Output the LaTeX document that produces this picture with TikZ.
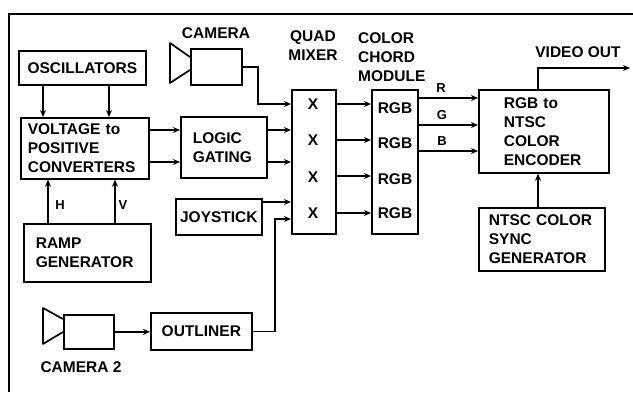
\documentclass[tikz,border=0pt]{standalone}
\usepackage{fontspec}
\setmainfont{Liberation Sans}
\usetikzlibrary{arrows.meta}
\begin{document}
\begin{tikzpicture}[x=1pt,y=-1pt,
  txt/.style={font=\bfseries\fontsize{15.5}{19}\selectfont},
  box/.style={draw, line width=1.7pt, anchor=north west, inner ysep=0pt, txt},
  lbl/.style={txt, inner sep=0pt},
  small/.style={font=\bfseries\fontsize{13}{15}\selectfont, inner sep=0pt},
  wire/.style={line width=1.7pt},
  arr/.style={line width=1.7pt, -{Stealth[length=7pt,width=6pt]}}]
\useasboundingbox (0,0) rectangle (633,392);
% frame
\draw[line width=2.6pt] (633,14) -- (9,14) -- (9,392);

% boxes
\node[box, minimum width=127, minimum height=34] (osc) at (18,50) {OSCILLATORS};
\node[box, minimum width=128, minimum height=61, inner xsep=7, text width=114, align=left] (volt) at (20,117) {VOLTAGE to\\POSITIVE\\CONVERTERS};
\node[box, minimum width=86, minimum height=61, inner xsep=12, text width=62, align=left] (logic) at (180,116) {LOGIC\\GATING};
\node[box, minimum width=51, minimum height=36] (cam) at (190,48) {};
\node[box, minimum width=44, minimum height=144] (mixer) at (291,89) {};
\node[box, minimum width=46, minimum height=144] (chord) at (371,89) {};
\node[box, minimum width=86, minimum height=36] (joy) at (175,198) {JOYSTICK};
\node[box, minimum width=127, minimum height=58, inner xsep=12, text width=103, align=left] (ramp) at (23,223) {RAMP\\GENERATOR};
\node[box, minimum width=50, minimum height=34] (cam2) at (63,314) {};
\node[box, minimum width=101, minimum height=37] (outl) at (150,312) {OUTLINER};
\node[box, minimum width=130, minimum height=83, inner xsep=25, text width=80, align=left] (enc) at (478,89) {RGB to\\NTSC\\COLOR\\ENCODER};
\node[box, minimum width=126, minimum height=63, inner xsep=10, text width=106, align=left] (sync) at (478,207) {NTSC COLOR\\SYNC\\GENERATOR};

% camera horns
\draw[wire, line join=round] ([yshift=-9]cam.north west) -- ++(-20,-14) -- ++(0,40) -- ([yshift=-22]cam.north west);
\draw[wire, line join=round] ([yshift=-5]cam2.north west) -- ++(-20,-11) -- ++(0,36) -- ([yshift=-18]cam2.north west);

% mixer and chord contents
\node[lbl] (x1) at (313,104) {X};
\node[lbl] (x2) at (313,140) {X};
\node[lbl] (x3) at (313,177) {X};
\node[lbl] (x4) at (313,213) {X};
\node[lbl] (c1) at (395,108) {RGB};
\node[lbl] (c2) at (395,143) {RGB};
\node[lbl] (c3) at (395,179) {RGB};
\node[lbl] (c4) at (395,213) {RGB};

% labels
\node[lbl] (tcam) at (216,33) {CAMERA};
\node[lbl, align=center] (tmix) at (313,46) {QUAD\\MIXER};
\node[lbl, align=left, anchor=west] (tchord) at (358,57) {COLOR\\CHORD\\MODULE};
\node[lbl] (tvid) at (578,52) {VIDEO OUT};
\node[lbl] (tcam2) at (81,367) {CAMERA 2};
\node[small] (th) at (60,205) {H};
\node[small] (tv) at (123,205) {V};
\node[small] (tr) at (441,88) {R};
\node[small] (tg) at (442,115) {G};
\node[small] (tb) at (442,141) {B};

% connectors
\draw[arr] ([xshift=25]osc.south west) -- ([xshift=23]volt.north west);
\draw[arr] ([xshift=91]osc.south west) -- ([xshift=89]volt.north west);
\draw[arr] ([xshift=25]ramp.north west) -- ([xshift=28]volt.south west);
\draw[arr] ([xshift=92]ramp.north west) -- ([xshift=95]volt.south west);
\draw[arr] ([yshift=-13]volt.north east) -- ([yshift=-13]volt.north east -| logic.west);
\draw[arr] ([yshift=-45]volt.north east) -- ([yshift=-45]volt.north east -| logic.west);
\draw[arr] ([yshift=-14]logic.north east) -- ([yshift=-14]logic.north east -| mixer.west);
\draw[arr] ([yshift=-46]logic.north east) -- ([yshift=-46]logic.north east -| mixer.west);
\coordinate (cj) at (258,104);
\draw[arr] (cam.east) -| (cj) -- (cj -| mixer.west);
\draw[arr] ([yshift=-4]joy.north east) -- ([yshift=-4]joy.north east -| mixer.west);
\coordinate (oj) at (275,219);
\draw[arr] (outl.east) -| (oj) -- (oj -| mixer.west);
\draw[arr] (cam2.east) -- (cam2.east -| outl.west);
\foreach \r/\yy in {1/104,2/140,3/176,4/213}{
  \draw[arr] (mixer.east |- 0,\yy) -- (chord.west |- 0,\yy);
}
\draw[arr] ([yshift=-9]chord.north east) -- ([yshift=-9]chord.north east -| enc.west);
\draw[arr] ([yshift=-36]chord.north east) -- ([yshift=-36]chord.north east -| enc.west);
\draw[arr] ([yshift=-62]chord.north east) -- ([yshift=-62]chord.north east -| enc.west);
\coordinate (vo) at (630,68);
\draw[arr] ([xshift=60]enc.north west) |- (vo);
\draw[arr] ([xshift=60]sync.north west) -- ([xshift=60]enc.south west);
\end{tikzpicture}
\end{document}
